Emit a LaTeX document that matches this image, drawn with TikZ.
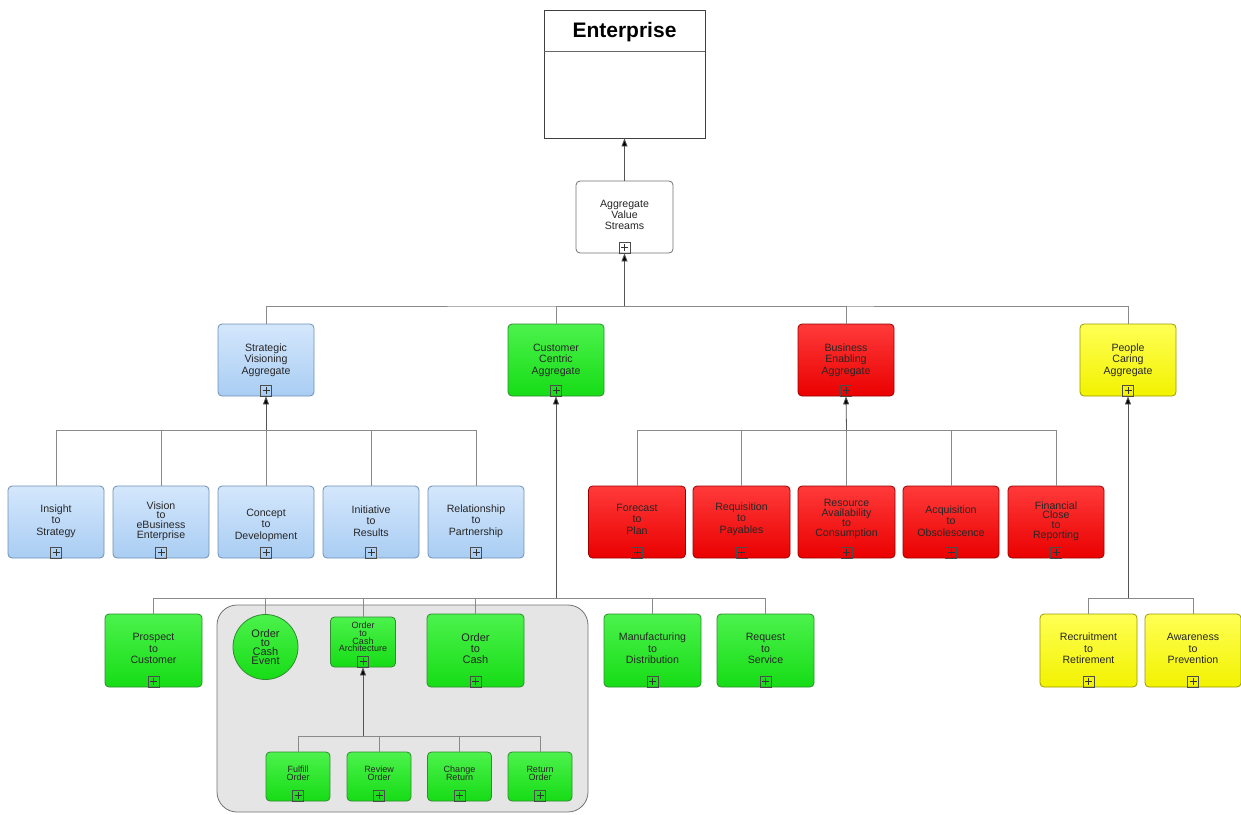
\documentclass[tikz,border=0pt]{standalone}
\usepackage{fontspec}
\setmainfont{Liberation Sans}
\usetikzlibrary{arrows.meta}

\definecolor{busgray}{HTML}{8A8A8A}
\definecolor{shaftgray}{HTML}{555555}
\definecolor{blueT}{HTML}{D4E7FC}
\definecolor{blueB}{HTML}{A9CDF3}
\definecolor{blueD}{HTML}{6F8FB3}
\definecolor{greenT}{HTML}{4CF24C}
\definecolor{greenB}{HTML}{16DC16}
\definecolor{greenD}{HTML}{2E8B2E}
\definecolor{redT}{HTML}{FF3A3A}
\definecolor{redB}{HTML}{EA0000}
\definecolor{redD}{HTML}{9A0000}
\definecolor{yelT}{HTML}{FFFF55}
\definecolor{yelB}{HTML}{F2F200}
\definecolor{yelD}{HTML}{9A9A00}

\newcommand\fsA{\fontsize{10.6}{11.4}\selectfont}
\newcommand\fsB{\fontsize{10.6}{9.8}\selectfont}
\newcommand\fsS{\fontsize{9}{8.5}\selectfont}
\newcommand\fsT{\fontsize{9}{7.6}\selectfont}
\newcommand\fsC{\fontsize{11}{9.2}\selectfont}
\newcommand\fsO{\fontsize{11}{11.2}\selectfont}

\tikzset{
  vsrect/.style={rectangle, rounded corners=4pt, line width=0.8pt, inner sep=0pt},
  bluebox/.style={vsrect, draw=blueD, top color=blueT, bottom color=blueB},
  greenbox/.style={vsrect, draw=greenD, top color=greenT, bottom color=greenB},
  redbox/.style={vsrect, draw=redD, top color=redT, bottom color=redB},
  yelbox/.style={vsrect, draw=yelD, top color=yelT, bottom color=yelB},
  whitebox/.style={vsrect, draw=black!55, fill=white},
  vstext/.style={align=center, inner sep=0pt, text=black!85, font=\fsA},
  plusbox/.style={rectangle, draw=black!70, line width=0.7pt, minimum size=11pt, inner sep=0pt},
  plussign/.style={draw=black!80, line width=0.8pt},
  bus/.style={draw=busgray, line width=0.8pt},
  uparrow/.style={draw=shaftgray, line width=0.8pt, -{Triangle[length=8pt,width=6pt,fill=black]}},
  container/.style={draw=black!55, fill=black!10, line width=0.8pt, rounded corners=20pt},
}

% box with centred text and an expand marker at its bottom edge
% #1 name, #2 x, #3 y, #4 width, #5 height, #6 box style, #7 text options, #8 text
\newcommand\vsnode[8]{%
  \node[#6, minimum width=#4pt, minimum height=#5pt] (#1) at (#2,#3) {};
  \node[vstext, #7] (#1-t) at (#1.center) {#8};
  \node[plusbox] (#1-p) at ([yshift=6pt]#1.south) {};
  \draw[plussign] ([xshift=-3.5pt]#1-p.center) -- ([xshift=3.5pt]#1-p.center);
  \draw[plussign] ([yshift=-3.5pt]#1-p.center) -- ([yshift=3.5pt]#1-p.center);
}

\begin{document}
\begin{tikzpicture}[x=1pt, y=-1pt]
\useasboundingbox (0,0) rectangle (1241,814);

% grouping panel around the order-to-cash family
\path[container] (217,605) rectangle (588,812);

% top-level enterprise box
\node[rectangle, draw=black!75, line width=0.8pt, fill=white, minimum width=161pt, minimum height=128pt, inner sep=0pt] (ent) at (624.5,74) {};
\draw[draw=black!60, line width=0.8pt] ([yshift=-42pt]ent.north west) -- ([yshift=-42pt]ent.north east);
\node[font=\bfseries\fontsize{21}{21}\selectfont, inner sep=0pt] (ent-t) at (624.5,32) {Enterprise};

\vsnode{avs}{624.5}{217}{97}{72}{whitebox}{yshift=2pt}{Aggregate\\Value\\Streams}

% aggregates
\vsnode{sva}{266}{360}{96}{72}{bluebox}{}{Strategic\\Visioning\\Aggregate}
\vsnode{cca}{556}{360}{96}{72}{greenbox}{}{Customer\\Centric\\Aggregate}
\vsnode{bea}{846}{360}{96}{72}{redbox}{}{Business\\Enabling\\Aggregate}
\vsnode{pca}{1128}{360}{96}{72}{yelbox}{}{People\\Caring\\Aggregate}

% strategic visioning streams
\vsnode{ins}{56}{522}{96}{72}{bluebox}{yshift=1pt}{Insight\\to\\Strategy}
\vsnode{vis}{161}{522}{96}{72}{bluebox}{yshift=1pt, font=\fsB}{Vision\\to\\eBusiness\\Enterprise}
\vsnode{con}{266}{522}{96}{72}{bluebox}{yshift=-3pt}{Concept\\to\\Development}
\vsnode{ini}{371}{522}{96}{72}{bluebox}{yshift=1pt}{Initiative\\to\\Results}
\vsnode{rel}{476}{522}{96}{72}{bluebox}{yshift=1pt}{Relationship\\to\\Partnership}

% business enabling streams
\vsnode{fcp}{637}{522}{97}{72}{redbox}{yshift=3pt}{Forecast\\to\\Plan}
\vsnode{req}{741.5}{522}{97}{72}{redbox}{yshift=3pt}{Requisition\\to\\Payables}
\vsnode{res}{846.5}{522}{97}{72}{redbox}{yshift=3pt, font=\fsB}{Resource\\Availability\\to\\Consumption}
\vsnode{acq}{951}{522}{96}{72}{redbox}{yshift=1pt}{Acquisition\\to\\Obsolescence}
\vsnode{fin}{1056}{522}{96}{72}{redbox}{yshift=1pt, font=\fsB}{Financial\\Close\\to\\Reporting}

% customer centric streams
\vsnode{pro}{153.5}{650.5}{97}{73}{greenbox}{yshift=2pt}{Prospect\\to\\Customer}
\node[circle, draw=greenD, line width=0.8pt, top color=greenT, bottom color=greenB, minimum size=65pt, inner sep=0pt, align=center, text=black!85, font=\fsC] (evt) at (265.5,647) {Order\\to\\Cash\\Event};
\vsnode{arch}{363}{642}{65}{50}{greenbox}{yshift=5pt, font=\fsT}{Order\\to\\Cash\\Architecture}
\vsnode{otc}{475.5}{650.5}{97}{73}{greenbox}{yshift=2pt, font=\fsO}{Order\\to\\Cash}
\vsnode{mtd}{652.5}{650.5}{97}{73}{greenbox}{yshift=2pt}{Manufacturing\\to\\Distribution}
\vsnode{rts}{765.5}{650.5}{97}{73}{greenbox}{yshift=2pt}{Request\\to\\Service}

% order to cash sub-streams
\vsnode{ful}{298}{776.5}{64}{49}{greenbox}{yshift=3pt, font=\fsS}{Fulfill\\Order}
\vsnode{rev}{379}{776.5}{64}{49}{greenbox}{yshift=3pt, font=\fsS}{Review\\Order}
\vsnode{chg}{459.5}{776.5}{64}{49}{greenbox}{yshift=3pt, font=\fsS}{Change\\Return}
\vsnode{ret}{540}{776.5}{64}{49}{greenbox}{yshift=3pt, font=\fsS}{Return\\Order}

% people caring streams
\vsnode{rec}{1088.5}{650.5}{97}{73}{yelbox}{yshift=2pt}{Recruitment\\to\\Retirement}
\vsnode{awa}{1193}{650.5}{96}{73}{yelbox}{yshift=2pt}{Awareness\\to\\Prevention}

% junction points of the buses
\coordinate (j1) at (624.5,306);
\coordinate (j2) at (266,430);
\coordinate (j3) at (846.5,430);
\coordinate (j4) at (556,598);
\coordinate (j5) at (363,736);
\coordinate (j6) at (1128,598);

% buses
\draw[bus] (sva.north) |- (j1) -| (pca.north);
\draw[bus] (cca.north) |- (j1);
\draw[bus] (bea.north) |- (j1);

\draw[bus] (ins.north) |- (j2) -| (rel.north);
\draw[bus] (vis.north) |- (j2);
\draw[bus] (con.north) |- (j2);
\draw[bus] (ini.north) |- (j2);

\draw[bus] (fcp.north) |- (j3) -| (fin.north);
\draw[bus] (req.north) |- (j3);
\draw[bus] (res.north) |- (j3);
\draw[bus] (acq.north) |- (j3);

\draw[bus] (pro.north) |- (j4) -| (rts.north);
\draw[bus] (evt.north) |- (j4);
\draw[bus] (arch.north) |- (j4);
\draw[bus] (otc.north) |- (j4);
\draw[bus] (mtd.north) |- (j4);

\draw[bus] (ful.north) |- (j5) -| (ret.north);
\draw[bus] (rev.north) |- (j5);
\draw[bus] (chg.north) |- (j5);

\draw[bus] (rec.north) |- (j6) -| (awa.north);

% arrows up to parents
\draw[uparrow] (avs.north) -- (ent.south);
\draw[uparrow] (j1) -- (avs.south);
\draw[uparrow] (j2) -- (sva.south);
\draw[uparrow] (j3) -- (bea.south);
\draw[uparrow] (j4) -- (cca.south);
\draw[uparrow] (j5) -- (arch.south);
\draw[uparrow] (j6) -- (pca.south);
\end{tikzpicture}
\end{document}
